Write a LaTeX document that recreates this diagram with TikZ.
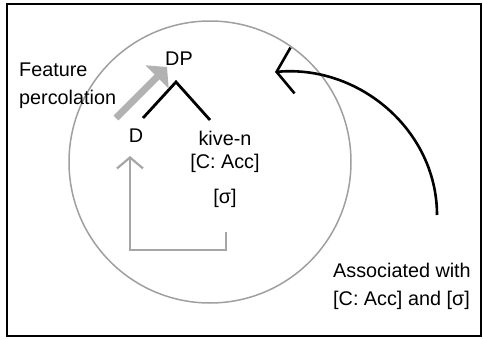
\documentclass[tikz,border=0pt]{standalone}
\usepackage{fontspec}
\setmainfont{Liberation Sans}
\usetikzlibrary{arrows.meta}

\begin{document}
\begin{tikzpicture}[x=1pt, y=-1pt, every node/.style={font=\fontsize{19.8}{28}\selectfont, inner sep=0pt}]
			\useasboundingbox (0,0) rectangle (483,340);
			\draw[line width=2pt] (7,4) rectangle (481,336);
			\draw[gray!75, line width=1.5pt] (210,162) circle (141);
			\node (dp) at (179,59) {DP};
			\node (d) at (136,136) {D};
			\node (kive) at (225,138) {kive-n};
			\node (case) at (225,163) {[C: Acc]};
			\node (sigma) at (225,198) {[σ]};
			\node[anchor=west, align=left] (perc) at (19,86) {Feature\\percolation};
			\node[anchor=west, align=left] (assoc) at (333,286) {Associated with\\{}[C: Acc] and [σ]};
			\coordinate (apex) at (176,82);
			\coordinate (dtop) at (143,118);
			\coordinate (ktop) at (210,120);
			\draw[line width=2.8pt] (dtop) -- (apex) -- (ktop);
			\coordinate (perctail) at (116,118);
			\coordinate (perchead) at (167,67);
			\draw[gray!60, line width=7pt, -{Triangle[length=14pt, width=32pt]}] (perctail) -- (perchead);
			\coordinate (sigmaend) at (226,232);
			\coordinate (dbottom) at (130,156);
			\draw[gray!70, line width=2.2pt, -{Straight Barb[length=11pt, width=26pt]}] (sigmaend) -- (226,250) -| (dbottom);
			\coordinate (assoctop) at (437,215);
			\coordinate (target) at (275,72);
			\draw[line width=2.6pt, -{Straight Barb[length=16pt, width=46pt]}] (assoctop) to[out=90, in=5] (target);
		\end{tikzpicture}
\end{document}
